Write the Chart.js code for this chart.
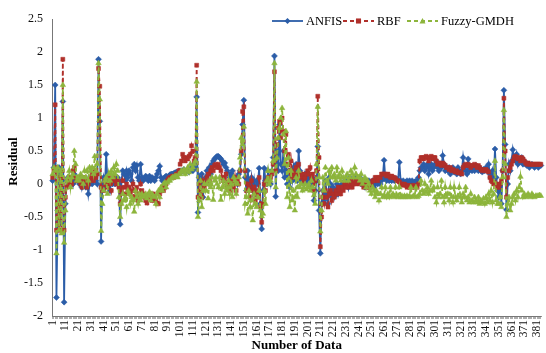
<!DOCTYPE html>
<html>
<head>
<meta charset="utf-8">
<script src="https://cdn.jsdelivr.net/npm/chart.js@4.4.1/dist/chart.umd.min.js"></script>
<style>
  html, body { margin: 0; padding: 0; background: #fff; }
  #wrap { width: 546px; height: 353px; position: relative; }
</style>
</head>
<body>
<div id="wrap"><canvas id="c" width="546" height="353"></canvas></div>
<script>
const seriesNames = ['ANFIS', 'RBF', 'Fuzzy-GMDH'];
const tickLabels = ['1','11','21','31','41','51','61','71','81','91','101','111','121','131','141','151','161','171','181','191','201','211','221','231','241','251','261','271','281','291','301','311','321','331','341','351','361','371','381'];
const yTicks = [-2, -1.5, -1, -0.5, 0, 0.5, 1, 1.5, 2, 2.5];

const anfis = [
 0.05, 0.25, 1.50, -1.72, -0.40, 0.25, -0.60, -0.20, 1.25, -1.79,
 -0.30, 0.05, 0.10, 0.00, 0.05, 0.10, 0.00, 0.15, 0.05, 0.10,
 0.05, 0.00, 0.10, -0.05, 0.05, 0.00, -0.05, 0.05, -0.15, 0.00,
 0.05, 0.00, 0.05, 0.10, 0.05, 0.00, 1.89, 0.95, -0.87, 0.00,
 0.10, -0.05, 0.45, 0.05, 0.00, -0.10, 0.05, 0.00, 0.10, 0.00,
 0.05, 0.10, 0.00, -0.61, 0.05, 0.20, 0.15, 0.05, 0.20, 0.10,
 0.20, 0.15, 0.05, 0.25, 0.30, 0.20, 0.28, 0.10, 0.05, 0.30,
 0.10, 0.05, 0.08, 0.12, 0.10, 0.05, 0.12, 0.05, 0.10, 0.08,
 0.05, 0.10, 0.15, 0.20, 0.27, 0.10, 0.05, 0.08, 0.10, 0.12,
 0.10, 0.12, 0.14, 0.15, 0.15, 0.16, 0.17, 0.18, 0.18, 0.20,
 0.20, 0.18, 0.20, 0.22, 0.18, 0.20, 0.22, 0.18, 0.20, 0.25,
 0.20, 0.30, 0.25, 1.32, -0.43, 0.10, 0.00, 0.15, -0.20, 0.05,
 0.10, 0.20, 0.05, 0.25, 0.15, 0.30, 0.35, 0.38, 0.40, 0.42,
 0.42, 0.40, 0.38, 0.35, 0.30, 0.32, 0.25, 0.20, 0.15, 0.10,
 0.15, 0.20, 0.10, 0.05, 0.10, 0.00, 0.15, 0.20, 0.45, 0.90,
 1.27, 0.10, -0.10, 0.20, 0.05, -0.05, 0.10, -0.10, 0.05, -0.15,
 0.05, 0.00, 0.24, -0.30, -0.68, -0.10, 0.24, 0.05, 0.00, 0.20,
 0.10, 0.00, 0.20, 0.40, 1.94, -0.19, 0.50, 0.20, 0.90, 0.30,
 0.20, 0.50, 0.10, 0.30, 0.00, 0.20, -0.05, 0.15, 0.05, 0.25,
 0.10, 0.30, 0.05, 0.50, 0.20, 0.05, 0.10, 0.00, 0.15, 0.05,
 0.10, 0.00, 0.05, -0.05, 0.10, -0.25, -0.10, 0.05, 0.57, -0.40,
 -1.05, -0.30, -0.10, -0.25, 0.05, -0.15, -0.30, 0.10, 0.00, -0.20,
 -0.05, -0.19, -0.10, 0.00, -0.15, -0.05, -0.10, 0.00, -0.05, 0.05,
 0.00, 0.05, -0.05, 0.10, 0.05, 0.00, 0.05, 0.10, 0.05, 0.10,
 0.05, 0.10, 0.00, 0.05, 0.00, -0.05, 0.05, 0.00, 0.05, -0.05,
 0.00, 0.05, -0.05, 0.00, 0.05, 0.00, 0.05, 0.00, 0.05, 0.10,
 0.36, 0.08, 0.05, 0.10, 0.05, 0.08, 0.05, 0.10, 0.05, 0.08,
 0.08, 0.05, 0.33, 0.05, 0.03, 0.05, 0.00, 0.03, 0.05, 0.02,
 0.05, 0.03, 0.05, 0.00, 0.03, 0.05, 0.00, 0.10, 0.20, 0.25,
 0.25, 0.30, 0.20, 0.25, 0.30, 0.15, 0.25, 0.30, 0.20, 0.25,
 0.30, 0.35, 0.25, 0.20, 0.30, 0.25, 0.43, 0.30, 0.20, 0.25,
 0.20, 0.25, 0.15, 0.20, 0.25, 0.18, 0.20, 0.15, 0.25, 0.20,
 0.15, 0.20, 0.40, 0.25, 0.20, 0.15, 0.38, 0.20, 0.25, 0.20,
 0.25, 0.20, 0.28, 0.22, 0.20, 0.25, 0.20, 0.18, 0.22, 0.20,
 0.25, 0.20, 0.30, 0.15, 0.10, 0.20, 0.05, 0.53, 0.10, -0.10,
 -0.20, 0.00, -0.30, 0.20, 1.42, 0.60, -0.39, 0.00, 0.30, 0.20,
 0.35, 0.52, 0.40, 0.35, 0.45, 0.30, 0.38, 0.35, 0.40, 0.30,
 0.35, 0.30, 0.28, 0.30, 0.25, 0.28, 0.30, 0.28, 0.25, 0.28,
 0.28, 0.25, 0.28, 0.28
];

const rbf = [
 0.10, 0.20, 1.20, -0.70, -0.30, -0.70, 0.10, -0.70, 1.89, -0.70,
 -0.20, -0.05, 0.00, 0.10, 0.05, 0.00, 0.20, 0.25, 0.10, 0.05,
 0.05, 0.10, 0.00, -0.05, 0.05, 0.10, 0.05, -0.05, 0.00, 0.05,
 0.10, 0.15, 0.05, 0.20, 0.10, 0.15, 1.75, 1.48, -0.05, -0.10,
 -0.10, 0.05, 0.00, -0.05, 0.10, 0.00, -0.10, 0.05, 0.10, 0.05,
 0.00, 0.05, -0.05, -0.30, -0.10, 0.05, -0.05, -0.15, 0.00, -0.10,
 -0.05, -0.15, -0.10, 0.00, -0.20, -0.10, -0.05, -0.25, -0.15, 0.00,
 -0.10, -0.15, -0.20, -0.25, -0.29, -0.20, -0.15, -0.20, -0.25, -0.15,
 -0.20, -0.25, -0.30, -0.30, -0.15, -0.10, -0.05, -0.10, -0.05, 0.00,
 0.05, 0.08, 0.10, 0.10, 0.12, 0.10, 0.12, 0.15, 0.15, 0.20,
 0.30, 0.35, 0.45, 0.40, 0.35, 0.40, 0.38, 0.42, 0.45, 0.58,
 0.50, 0.35, 0.40, 1.80, -0.20, 0.00, -0.10, -0.20, 0.05, -0.05,
 0.00, 0.10, 0.15, 0.05, 0.20, 0.25, 0.20, 0.28, 0.30, 0.25,
 0.30, 0.25, 0.20, 0.10, 0.05, 0.10, 0.15, -0.05, 0.00, -0.10,
 0.05, 0.00, -0.05, 0.10, -0.10, 0.05, 0.00, 0.20, 0.50, 1.10,
 1.17, 0.20, -0.10, 0.00, -0.05, -0.20, 0.05, -0.10, -0.05, -0.25,
 -0.10, -0.20, 0.10, -0.35, -0.58, -0.30, 0.00, -0.10, 0.05, 0.10,
 0.05, 0.10, 0.15, 0.30, 1.70, 0.20, 0.60, 0.85, 0.95, 0.70,
 1.00, 0.80, 0.50, 0.75, 0.30, 0.45, 0.20, 0.35, 0.10, 0.20,
 0.15, 0.25, 0.10, 0.30, 0.15, 0.10, 0.15, 0.05, 0.10, 0.15,
 0.20, 0.15, 0.25, 0.10, 0.15, -0.10, 0.05, 0.20, 1.33, 0.40,
 -0.95, -0.50, -0.20, -0.30, -0.10, -0.20, -0.35, -0.15, -0.10, -0.25,
 -0.15, -0.20, -0.10, -0.15, -0.05, -0.10, -0.15, -0.05, -0.10, 0.00,
 -0.05, 0.00, -0.05, 0.00, 0.05, -0.05, 0.00, 0.05, 0.00, 0.05,
 0.05, 0.00, 0.05, 0.00, -0.05, 0.00, 0.05, -0.05, 0.00, -0.05,
 0.00, 0.05, 0.05, 0.10, 0.10, 0.05, 0.10, 0.10, 0.15, 0.15,
 0.15, 0.15, 0.12, 0.15, 0.12, 0.10, 0.12, 0.10, 0.10, 0.08,
 0.05, 0.05, 0.03, 0.00, 0.00, -0.02, 0.00, -0.02, -0.05, -0.02,
 -0.05, -0.03, -0.05, -0.02, -0.05, -0.03, -0.05, 0.00, 0.35, 0.40,
 0.40, 0.38, 0.40, 0.42, 0.40, 0.35, 0.40, 0.42, 0.38, 0.40,
 0.40, 0.35, 0.30, 0.32, 0.30, 0.28, 0.32, 0.30, 0.28, 0.25,
 0.25, 0.22, 0.25, 0.20, 0.22, 0.20, 0.18, 0.20, 0.17, 0.17,
 0.17, 0.15, 0.25, 0.28, 0.30, 0.28, 0.30, 0.28, 0.25, 0.28,
 0.28, 0.30, 0.28, 0.25, 0.28, 0.25, 0.22, 0.20, 0.22, 0.20,
 0.22, 0.20, 0.18, 0.10, 0.05, 0.03, 0.00, 0.02, 0.00, -0.05,
 -0.05, 0.00, 0.05, 0.20, 1.30, 0.50, -0.20, 0.10, 0.20, 0.25,
 0.30, 0.35, 0.40, 0.42, 0.40, 0.38, 0.40, 0.35, 0.40, 0.38,
 0.35, 0.32, 0.30, 0.32, 0.30, 0.30, 0.30, 0.30, 0.30, 0.30,
 0.30, 0.30, 0.30, 0.30
];

const fuzzyGmdh = [
 0.15, 0.25, 0.20, -1.05, 0.25, -0.70, 0.20, -0.75, 1.50, -0.89,
 -0.40, 0.05, 0.10, 0.20, -0.05, 0.10, 0.15, 0.50, 0.30, 0.05,
 0.10, 0.05, 0.15, 0.10, 0.00, 0.20, 0.10, 0.20, 0.05, 0.25,
 0.20, 0.25, 0.15, 0.42, 0.20, 0.30, 1.83, 1.28, -0.71, -0.30,
 -0.10, 0.05, 0.10, -0.15, 0.15, 0.05, 0.20, 0.10, 0.25, 0.15,
 0.30, 0.20, -0.20, -0.50, -0.30, -0.15, -0.25, -0.20, -0.35, -0.10,
 -0.15, -0.30, -0.20, -0.25, -0.42, -0.10, -0.20, -0.30, -0.15, -0.25,
 -0.15, -0.20, -0.18, -0.15, -0.22, -0.18, -0.12, -0.25, -0.15, -0.18,
 -0.20, -0.30, -0.15, -0.10, -0.20, -0.05, -0.10, 0.00, 0.02, -0.05,
 0.02, 0.05, 0.05, 0.08, 0.10, 0.10, 0.12, 0.12, 0.10, 0.15,
 0.15, 0.20, 0.18, 0.22, 0.15, 0.20, 0.25, 0.18, 0.30, 0.22,
 0.25, 0.30, 0.35, 1.55, -0.50, -0.25, 0.05, -0.35, -0.10, 0.00,
 -0.10, 0.00, -0.22, 0.05, -0.05, 0.10, -0.24, 0.05, 0.10, 0.00,
 -0.05, 0.10, -0.24, -0.05, 0.05, -0.15, 0.00, -0.10, 0.05, -0.15,
 0.00, -0.20, 0.10, 0.05, -0.15, 0.00, 0.10, 0.40, 0.70, 0.60,
 0.87, -0.30, -0.20, -0.45, -0.10, -0.35, -0.25, -0.55, -0.15, -0.30,
 -0.35, -0.20, -0.10, -0.40, -0.49, -0.45, -0.10, -0.30, 0.05, 0.20,
 0.00, 0.05, 0.20, 0.35, 1.83, -0.05, 0.40, 0.70, 0.85, 1.00,
 1.15, 0.75, 0.30, 0.80, -0.20, 0.40, -0.35, 0.20, -0.25, -0.10,
 -0.40, 0.10, -0.20, 0.20, -0.05, 0.00, -0.10, -0.05, 0.00, -0.08,
 -0.05, 0.00, -0.10, 0.05, -0.05, -0.17, -0.30, 0.30, 1.17, 0.10,
 -0.72, -0.40, 0.10, -0.10, 0.25, 0.05, 0.00, 0.20, 0.10, 0.25,
 0.10, 0.15, 0.05, 0.25, 0.10, 0.15, 0.05, 0.20, 0.10, 0.05,
 0.10, 0.15, 0.05, 0.10, 0.20, 0.15, 0.10, 0.25, 0.15, 0.10,
 0.10, 0.05, 0.15, 0.00, 0.05, 0.10, -0.05, 0.05, 0.00, -0.10,
 -0.15, -0.05, -0.10, -0.20, -0.10, -0.15, -0.25, -0.15, -0.05, -0.20,
 -0.18, -0.05, -0.20, -0.15, -0.20, -0.05, -0.18, -0.15, -0.20, -0.05,
 -0.18, -0.20, -0.05, -0.20, -0.18, -0.20, -0.18, -0.20, -0.18, -0.20,
 -0.18, -0.05, -0.20, -0.18, -0.18, -0.05, -0.20, -0.18, -0.15, 0.05,
 -0.10, -0.15, 0.00, -0.12, -0.05, -0.15, -0.10, 0.05, -0.10, -0.05,
 -0.20, -0.28, -0.05, -0.20, -0.15, 0.05, -0.20, -0.28, -0.05, -0.20,
 -0.15, -0.25, -0.05, -0.20, -0.28, -0.05, -0.20, -0.25, -0.18, -0.05,
 -0.20, -0.28, -0.15, -0.20, -0.05, -0.25, -0.20, -0.28, -0.15, -0.25,
 -0.28, -0.20, -0.25, -0.28, -0.20, -0.30, -0.25, -0.28, -0.22, -0.30,
 -0.20, -0.28, -0.15, -0.25, -0.10, -0.28, -0.15, 0.35, -0.25, -0.30,
 -0.30, -0.20, -0.35, 0.10, 1.12, 0.30, -0.50, -0.30, -0.20, -0.40,
 -0.30, -0.20, -0.15, -0.25, -0.10, -0.20, -0.05, 0.11, -0.10, -0.20,
 -0.15, -0.20, -0.18, -0.15, -0.18, -0.20, -0.15, -0.18, -0.20, -0.18,
 -0.18, -0.18, -0.17, -0.18
];

const categories = anfis.map((_, i) => String(i + 1));

const FONT = '"Liberation Serif", "Times New Roman", serif';
const colors = { anfis: '#2B5DA8', rbf: '#B0302B', fuzzy: '#8DB53C' };

function drawMarker(ctx, style, x, y, r) {
  ctx.beginPath();
  if (style === 'rectRot') {
    ctx.moveTo(x, y - r); ctx.lineTo(x + r, y); ctx.lineTo(x, y + r); ctx.lineTo(x - r, y);
  } else if (style === 'rect') {
    ctx.rect(x - r * 0.85, y - r * 0.85, r * 1.7, r * 1.7);
  } else {
    ctx.moveTo(x, y - r); ctx.lineTo(x + r, y + r * 0.8); ctx.lineTo(x - r, y + r * 0.8);
  }
  ctx.closePath();
  ctx.fill();
}

// Legend and y-axis labels/title drawn against the library's own scale
const refPlugin = {
  id: 'refDecor',
  afterDraw(chart) {
    const ctx = chart.ctx;
    const ys = chart.scales.y;
    const area = chart.chartArea;
    ctx.save();
    ctx.font = '12px ' + FONT;
    ctx.fillStyle = '#111';
    ctx.textAlign = 'right';
    ctx.textBaseline = 'middle';
    yTicks.forEach(v => {
      ctx.fillText(String(v), area.left - 9, ys.getPixelForValue(v));
    });
    ctx.save();
    ctx.translate(14, (area.top + area.bottom) / 2 - 6);
    ctx.rotate(-Math.PI / 2);
    ctx.font = 'bold 13px ' + FONT;
    ctx.fillStyle = '#000';
    ctx.textAlign = 'center';
    ctx.fillText('Residual', 0, 0);
    ctx.restore();
    const y = 21;
    const slots = [272, 343, 407];
    ctx.font = '12.5px ' + FONT;
    ctx.textAlign = 'left';
    chart.data.datasets.forEach((ds, i) => {
      const x = slots[i];
      ctx.strokeStyle = ds.borderColor;
      ctx.lineWidth = 1.8;
      ctx.setLineDash(ds.borderDash || []);
      ctx.beginPath(); ctx.moveTo(x, y); ctx.lineTo(x + 31, y); ctx.stroke();
      ctx.setLineDash([]);
      ctx.fillStyle = ds.borderColor;
      drawMarker(ctx, ds.pointStyle, x + 15.5, y, 3);
      ctx.fillStyle = '#000';
      ctx.fillText(ds.label, x + 34, y + 1);
    });
    ctx.restore();
  }
};

new Chart(document.getElementById('c'), {
  type: 'line',
  data: {
    labels: categories,
    datasets: [
      { label: seriesNames[0], data: anfis, borderColor: colors.anfis, backgroundColor: colors.anfis,
        pointStyle: 'rectRot', pointRadius: 3, pointBorderWidth: 0.5, borderWidth: 1.8, order: 3 },
      { label: seriesNames[1], data: rbf, borderColor: colors.rbf, backgroundColor: colors.rbf,
        pointStyle: 'rect', pointRadius: 2.8, pointBorderWidth: 0.5, borderWidth: 1.8, borderDash: [4, 3], order: 2 },
      { label: seriesNames[2], data: fuzzyGmdh, borderColor: colors.fuzzy, backgroundColor: colors.fuzzy,
        pointStyle: 'triangle', pointRadius: 3.2, pointBorderWidth: 0.5, borderWidth: 1.8, borderDash: [4, 3], order: 1 }
    ]
  },
  options: {
    responsive: false,
    animation: false,
    devicePixelRatio: 1,
    layout: { padding: { top: 19, right: 1, left: 52, bottom: 0 } },
    plugins: { legend: { display: false }, tooltip: { enabled: false } },
    scales: {
      x: {
        type: 'category',
        offset: true,
        grid: { display: true, drawOnChartArea: false, drawTicks: true, tickLength: 3, color: '#777', lineWidth: 0.6 },
        border: { display: true, color: '#777', width: 1 },
        ticks: {
          autoSkip: false, maxRotation: 90, minRotation: 90, padding: 1,
          font: { family: FONT, size: 11.5 }, color: '#111',
          callback(v) { const l = this.getLabelForValue(v); return tickLabels.includes(l) ? l : ''; }
        },
        title: { display: true, text: 'Number of Data', color: '#000', padding: 0,
          font: { family: FONT, size: 13, weight: 'bold' } },
        afterFit(s) { s.height = 37; s.paddingLeft = 0; s.paddingRight = 0; }
      },
      y: {
        min: yTicks[0], max: yTicks[yTicks.length - 1],
        grid: { display: false, drawTicks: false },
        border: { display: true, color: '#777', width: 1 },
        ticks: { display: false },
        title: { display: false },
        afterFit(s) { s.width = 0; s.paddingTop = 0; s.paddingBottom = 0; }
      }
    }
  },
  plugins: [refPlugin]
});
</script>
</body>
</html>
